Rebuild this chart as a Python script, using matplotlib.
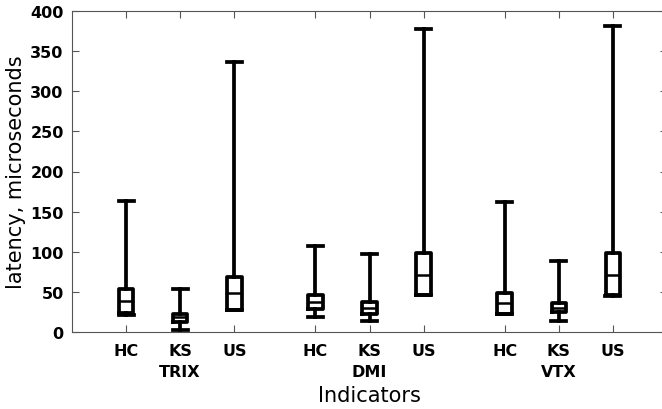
import matplotlib
matplotlib.use("Agg")
import matplotlib.pyplot as plt

# box positions and labels (gnuplot-like layout: 3 groups of 3)
positions = [1, 2, 3, 4.5, 5.5, 6.5, 8, 9, 10]
tick_labels = ["HC", "KS\nTRIX", "US", "HC", "KS\nDMI", "US", "HC", "KS\nVTX", "US"]

# latency stats, microseconds
wmin = [21, 3, 27, 19, 14, 46, 22, 14, 45]
q1 = [24, 13, 28, 29, 22, 46, 23, 25, 46]
med = [39, 19, 49, 38, 30, 71, 36, 30, 71]
q3 = [53, 22, 69, 46, 38, 98, 49, 36, 98]
wmax = [163, 53, 336, 107, 97, 377, 162, 88, 381]

stats = []
for i in range(len(positions)):
    stats.append({"whislo": wmin[i], "q1": q1[i], "med": med[i],
                  "q3": q3[i], "whishi": wmax[i], "fliers": []})

fig = plt.figure(figsize=(6.62, 4.10), dpi=100)
ax = fig.add_axes([72 / 662, 77 / 410, 595 / 662, 321 / 410])

lw = 2.7
ax.bxp(stats, positions=positions, widths=0.27, capwidths=0.28,
       showfliers=False,
       boxprops=dict(color="black", linewidth=lw),
       whiskerprops=dict(color="black", linewidth=lw),
       capprops=dict(color="black", linewidth=lw),
       medianprops=dict(color="black", linewidth=1.8))

ax.set_xlim(0, 11)
ax.set_ylim(0, 400)
ax.set_yticks(range(0, 401, 50))
ax.set_xticks(positions)
ax.set_xticklabels(tick_labels, fontweight="bold", fontsize=11.5, linespacing=1.45, va="top")
for lab in ax.get_yticklabels():
    lab.set_fontweight("bold")
    lab.set_fontsize(11.5)

ax.tick_params(axis="both", direction="in", length=5, width=0.8, color="#555555",
               top=True, right=True)
ax.tick_params(axis="x", pad=8)
ax.tick_params(axis="y", pad=6)
for s in ax.spines.values():
    s.set_color("#555555")
    s.set_linewidth(0.8)

ax.set_ylabel("latency, microseconds", fontsize=15, labelpad=3)
ax.set_xlabel("Indicators", fontsize=15, labelpad=4.5)

fig.savefig("out.png", dpi=100)
